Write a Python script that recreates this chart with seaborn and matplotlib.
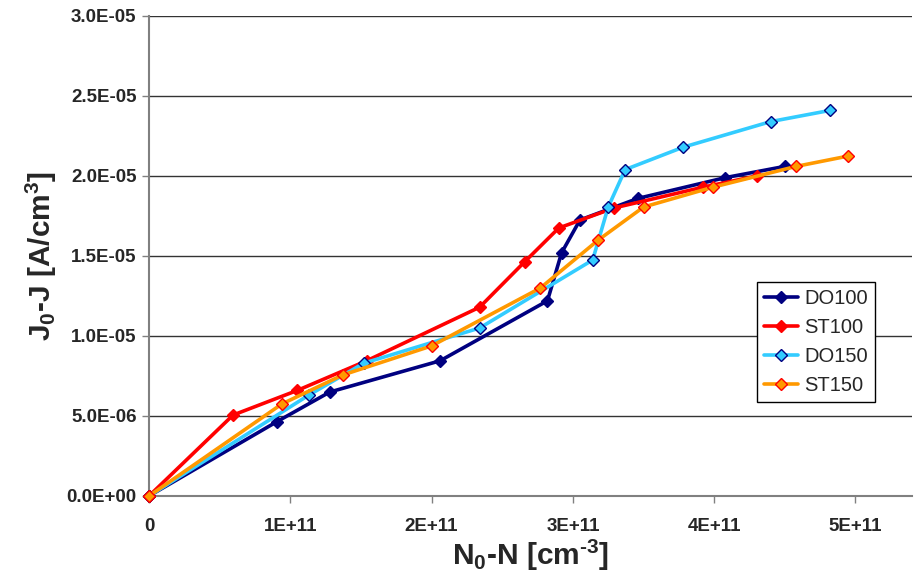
import matplotlib
matplotlib.use("Agg")
import matplotlib.pyplot as plt
import seaborn as sns
import pandas as pd

# N0-N [cm^-3] and J0-J [A/cm^3] for each sample
do100_x = [0, 0.906e11, 1.28e11, 2.06e11, 2.82e11, 2.92e11, 3.05e11, 3.46e11, 4.08e11, 4.50e11]
do100_y = [0, 4.65e-6, 6.5e-6, 8.45e-6, 12.2e-6, 15.2e-6, 17.25e-6, 18.6e-6, 19.9e-6, 20.6e-6]

st100_x = [0, 0.595e11, 1.05e11, 1.54e11, 2.34e11, 2.66e11, 2.90e11, 3.29e11, 3.92e11, 4.30e11]
st100_y = [0, 5.06e-6, 6.6e-6, 8.45e-6, 11.8e-6, 14.65e-6, 16.75e-6, 18.0e-6, 19.3e-6, 20.0e-6]

do150_x = [0, 1.13e11, 1.52e11, 2.34e11, 3.14e11, 3.25e11, 3.37e11, 3.78e11, 4.40e11, 4.82e11]
do150_y = [0, 6.3e-6, 8.3e-6, 10.5e-6, 14.75e-6, 18.06e-6, 20.4e-6, 21.8e-6, 23.4e-6, 24.1e-6]

st150_x = [0, 0.94e11, 1.37e11, 2.00e11, 2.77e11, 3.18e11, 3.50e11, 3.99e11, 4.58e11, 4.95e11]
st150_y = [0, 5.75e-6, 7.56e-6, 9.38e-6, 13.0e-6, 16.0e-6, 18.06e-6, 19.3e-6, 20.6e-6, 21.25e-6]

series_names = ["DO100", "ST100", "DO150", "ST150"]
line_colors = ["#000080", "#FF0000", "#33CCFF", "#FF9900"]
marker_faces = ["#000080", "#FF0000", "#33CCFF", "#FF9900"]
marker_edges = ["#000080", "#FF0000", "#000080", "#FF0000"]

x_ticks = [0, 1e11, 2e11, 3e11, 4e11, 5e11]
x_tick_labels = ["0", "1E+11", "2E+11", "3E+11", "4E+11", "5E+11"]
y_ticks = [0, 5e-6, 1e-5, 1.5e-5, 2e-5, 2.5e-5, 3e-5]
y_tick_labels = ["0.0E+00", "5.0E-06", "1.0E-05", "1.5E-05", "2.0E-05", "2.5E-05", "3.0E-05"]

sns.set_theme(style="white")
plt.rcParams["font.family"] = ["Liberation Sans", "DejaVu Sans"]
plt.rcParams["mathtext.fontset"] = "custom"
plt.rcParams["mathtext.rm"] = "Liberation Sans:bold"
plt.rcParams["mathtext.it"] = "Liberation Sans:bold"
plt.rcParams["mathtext.bf"] = "Liberation Sans:bold"
plt.rcParams["mathtext.default"] = "regular"

frames = []
for name, xs, ys in zip(series_names,
                        [do100_x, st100_x, do150_x, st150_x],
                        [do100_y, st100_y, do150_y, st150_y]):
    frames.append(pd.DataFrame({"x": xs, "y": ys, "series": name}))
df = pd.concat(frames, ignore_index=True)

fig = plt.figure(figsize=(9.15, 5.77), dpi=100)
ax = fig.add_axes([149 / 915, 1 - 496 / 577, (912 - 149) / 915, (496 - 16) / 577])

for i, name in enumerate(series_names):
    sub = df[df["series"] == name]
    sns.lineplot(data=sub, x="x", y="y", ax=ax, color=line_colors[i],
                 linewidth=2.6, marker="D", markersize=6.5,
                 markerfacecolor=marker_faces[i], markeredgecolor=marker_edges[i],
                 markeredgewidth=1.0, label=name, zorder=3 + i, clip_on=False)

ax.set_xlim(0, 5.4e11)
ax.set_ylim(0, 3e-5)
ax.set_xticks(x_ticks)
ax.set_xticklabels(x_tick_labels)
ax.set_yticks(y_ticks)
ax.set_yticklabels(y_tick_labels)

for lab in ax.get_xticklabels() + ax.get_yticklabels():
    lab.set_fontweight("bold")
    lab.set_fontsize(13.5)

ax.yaxis.grid(True, color="#333333", linewidth=1.0)
ax.xaxis.grid(False)
ax.set_axisbelow(True)

for side in ["top", "right"]:
    ax.spines[side].set_visible(False)
for side in ["left", "bottom"]:
    ax.spines[side].set_color("#808080")
    ax.spines[side].set_linewidth(1.5)

ax.tick_params(axis="both", which="major", direction="out", length=5,
               width=1, color="#808080", bottom=True, left=True)
ax.tick_params(axis="x", pad=11)
ax.tick_params(axis="y", pad=4)

ax.set_xlabel(r"N$_{0}$-N [cm$^{\text{-3}}$]", fontsize=21.5, fontweight="bold", labelpad=2)
ax.set_ylabel(r"J$_{0}$-J [A/cm$^{3}$]", fontsize=21.5, fontweight="bold", labelpad=5)

leg = ax.legend(loc="upper left", bbox_to_anchor=(757 / 915, 1 - 282 / 577),
                bbox_transform=fig.transFigure, borderaxespad=0,
                fontsize=14.5, frameon=True, fancybox=False, framealpha=1,
                edgecolor="black", handlelength=1.7, handletextpad=0.3,
                labelspacing=0.5, borderpad=0.35)
leg.get_frame().set_linewidth(1.0)

fig.savefig("out.png", dpi=100)
